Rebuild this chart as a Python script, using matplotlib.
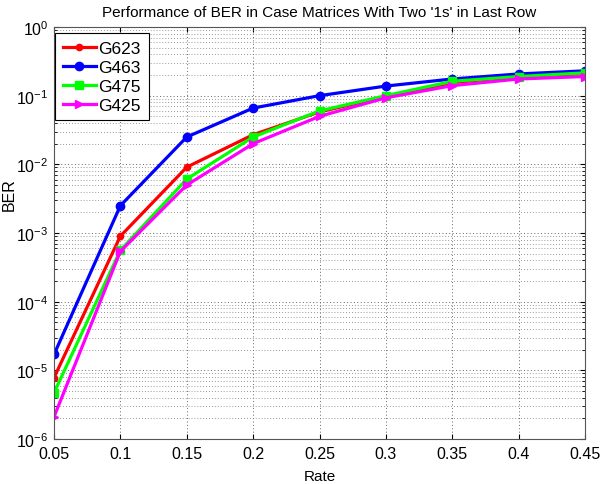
import matplotlib
matplotlib.use("Agg")
import matplotlib.pyplot as plt
from matplotlib.ticker import LogLocator, NullFormatter

plt.rcParams['font.family'] = ['Liberation Sans', 'DejaVu Sans']

rate = [0.05, 0.1, 0.15, 0.2, 0.25, 0.3, 0.35, 0.4, 0.45]
ber_g623 = [7.8e-6, 9.0e-4, 9.1e-3, 0.027, 0.058, 0.097, 0.155, 0.19, 0.21]
ber_g463 = [1.7e-5, 2.5e-3, 0.025, 0.066, 0.10, 0.138, 0.175, 0.207, 0.23]
ber_g475 = [4.7e-6, 5.6e-4, 6.1e-3, 0.025, 0.060, 0.10, 0.162, 0.19, 0.215]
ber_g425 = [2.1e-6, 5.4e-4, 5.0e-3, 0.020, 0.050, 0.093, 0.140, 0.175, 0.19]
tick_labels = ['0.05', '0.1', '0.15', '0.2', '0.25', '0.3', '0.35', '0.4', '0.45']

series = [
    ("G623", ber_g623, '#ff0000', '.', 9),
    ("G463", ber_g463, '#0000ff', 'o', 6),
    ("G475", ber_g475, '#00ff00', 's', 6),
    ("G425", ber_g425, '#ff00ff', '>', 6),
]

fig = plt.figure(figsize=(6.02, 4.85), dpi=100)
ax = fig.add_axes([0.0897, 0.0928, 0.8823, 0.8495])

for name, vals, col, mk, ms in series:
    ax.semilogy(rate, vals, color=col, marker=mk, markersize=ms, linewidth=2.3,
                label=name)

ax.set_xlim(0.05, 0.45)
ax.set_ylim(1e-6, 1)
ax.set_xticks(rate)
ax.set_xticklabels(tick_labels)
ax.yaxis.set_major_locator(LogLocator(base=10, numticks=10))
ax.yaxis.set_minor_locator(LogLocator(base=10, subs=range(2, 10), numticks=10))
ax.yaxis.set_minor_formatter(NullFormatter())

# dotted MATLAB-style grid
ax.grid(True, which='major', linestyle=(0, (1, 2.5)), color='#666666', linewidth=0.7)
ax.grid(True, which='minor', axis='y', linestyle=(0, (1, 2.5)), color='#777777', linewidth=0.6)
ax.tick_params(direction='in', which='both', top=True, right=True, labelsize=11.5)
ax.tick_params(axis='x', pad=5)
ax.tick_params(axis='y', pad=4)
for sp in ax.spines.values():
    sp.set_color('#555555')

ax.set_xlabel('Rate', fontsize=11, labelpad=6)
ax.set_ylabel('BER', fontsize=11.5)
ax.yaxis.set_label_coords(-0.07, 0.595)
ax.set_title("Performance of BER in Case Matrices With Two '1s' in Last Row",
             fontsize=11, pad=8)

leg = ax.legend(loc='upper left', bbox_to_anchor=(0.002, 0.986), borderaxespad=0,
                fontsize=12.5, fancybox=False, framealpha=1, edgecolor='black',
                handlelength=1.9, handletextpad=0.15, borderpad=0.45,
                labelspacing=0.22)
leg.get_frame().set_linewidth(0.8)

fig.savefig('out.png', dpi=100)
